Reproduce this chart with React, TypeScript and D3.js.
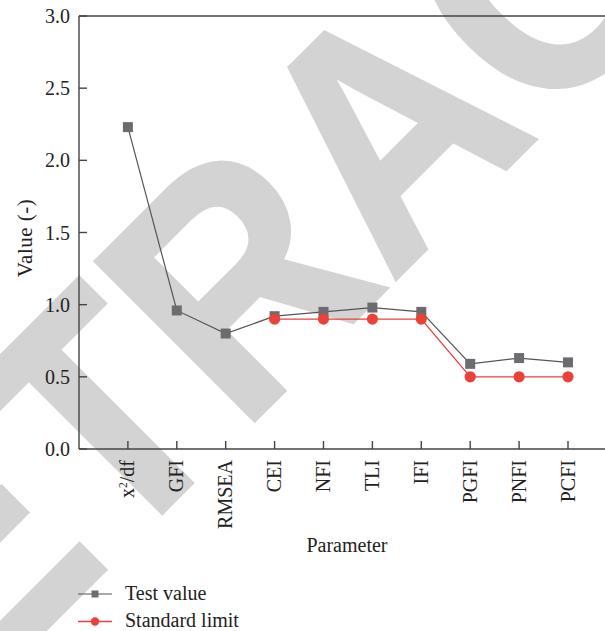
import React from 'react';
import * as d3 from 'd3';

const categories = ['x2/df', 'GFI', 'RMSEA', 'CEI', 'NFI', 'TLI', 'IFI', 'PGFI', 'PNFI', 'PCFI'];
const testValues: number[] = [2.23, 0.96, 0.8, 0.92, 0.95, 0.98, 0.95, 0.59, 0.63, 0.6];
const standardLimits: (number | null)[] = [null, null, null, 0.9, 0.9, 0.9, 0.9, 0.5, 0.5, 0.5];
const yTicks = [0, 0.5, 1.0, 1.5, 2.0, 2.5, 3.0];
const seriesNames = ['Test value', 'Standard limit'];
const watermark = 'RETRACTED';

const W = 605;
const H = 631;
const left = 79;
const top = 16;
const bottom = 449;
const step = 48.9;
const FONT = '"Liberation Serif", "DejaVu Serif", serif';
const GRAY = '#6b6b70';
const RED = '#ea4238';
const AXIS = '#444';

export default function App() {
  const x = d3.scaleLinear().domain([0, 11]).range([left, left + 11 * step]);
  const y = d3.scaleLinear().domain([0, 3]).range([bottom, top]);

  const testPts = testValues.map((v, i) => ({ i: i + 1, v }));
  const stdPts = standardLimits
    .map((v, i) => ({ i: i + 1, v }))
    .filter((d) => d.v !== null) as { i: number; v: number }[];

  const line = d3
    .line<{ i: number; v: number }>()
    .x((d) => x(d.i))
    .y((d) => y(d.v));

  const fs = 20;

  return (
    <svg
      width={W}
      height={H}
      style={{ position: 'absolute', left: 0, top: 0, display: 'block', background: '#fff' }}
      fontFamily={FONT}
    >
      <rect x={0} y={0} width={W} height={H} fill="#fff" />
      {/* watermark */}
      <g transform="translate(240.7,434.4) rotate(-45) scale(0.9,1)">
        <text
          x={-654}
          y={0}
          fontFamily='"Liberation Sans", Arial, sans-serif'
          fontWeight="bold"
          fontSize={327}
          fill="#d3d3d3"
          stroke="#d3d3d3"
          strokeWidth={4}
          strokeLinejoin="miter"
        >
          {watermark}
        </text>
      </g>

      {/* axes frame */}
      <line x1={left} x2={W} y1={top} y2={top} stroke={AXIS} strokeWidth={1.4} />
      <line x1={left} x2={W} y1={bottom} y2={bottom} stroke={AXIS} strokeWidth={1.4} />
      <line x1={left} x2={left} y1={top} y2={bottom} stroke={AXIS} strokeWidth={1.4} />

      {/* y ticks */}
      {yTicks.map((t) => (
        <g key={t}>
          <line x1={left} x2={left + 8} y1={y(t)} y2={y(t)} stroke={AXIS} strokeWidth={1.4} />
          <text x={70} y={y(t)} dy="0.35em" textAnchor="end" fontSize={fs} fill="#222">
            {d3.format('.1f')(t)}
          </text>
        </g>
      ))}

      {/* x ticks */}
      {categories.map((c, k) => {
        const xx = x(k + 1);
        return (
          <g key={c}>
            <line x1={xx} x2={xx} y1={bottom} y2={bottom - 8} stroke={AXIS} strokeWidth={1.4} />
            <text
              transform={`translate(${xx + 6.5},${bottom + 11}) rotate(-90)`}
              textAnchor="end"
              fontSize={fs}
              fill="#222"
            >
              {c === 'x2/df' ? (
                <>
                  x<tspan fontSize={11.5} dy={-7.5}>2</tspan>
                  <tspan dy={7.5}>/df</tspan>
                </>
              ) : (
                c
              )}
            </text>
          </g>
        );
      })}

      {/* axis titles */}
      <text x={347} y={552} textAnchor="middle" fontSize={fs} fill="#222">
        Parameter
      </text>
      <text
        transform={`translate(32,238) rotate(-90)`}
        textAnchor="middle"
        fontSize={21}
        letterSpacing={0.5}
        fill="#222"
      >
        Value (-)
      </text>

      {/* series */}
      <path d={line(testPts) || ''} fill="none" stroke="#555" strokeWidth={1.2} />
      <path d={line(stdPts) || ''} fill="none" stroke={RED} strokeWidth={1.3} />
      {testPts.map((d) => (
        <rect key={'t' + d.i} x={x(d.i) - 5} y={y(d.v) - 5} width={10} height={10} fill={GRAY} />
      ))}
      {stdPts.map((d) => (
        <circle key={'s' + d.i} cx={x(d.i)} cy={y(d.v)} r={5.6} fill={RED} />
      ))}

      {/* legend */}
      <g>
        <line x1={78} x2={112} y1={594} y2={594} stroke="#555" strokeWidth={1.2} />
        <rect x={95 - 3.5} y={594 - 3.5} width={7} height={7} fill={GRAY} />
        <text x={125} y={600} fontSize={fs} fill="#222">
          {seriesNames[0]}
        </text>
        <line x1={78} x2={112} y1={621.5} y2={621.5} stroke={RED} strokeWidth={1.3} />
        <circle cx={95} cy={621.5} r={4.2} fill={RED} />
        <text x={125} y={627} fontSize={fs} fill="#222">
          {seriesNames[1]}
        </text>
      </g>
    </svg>
  );
}
